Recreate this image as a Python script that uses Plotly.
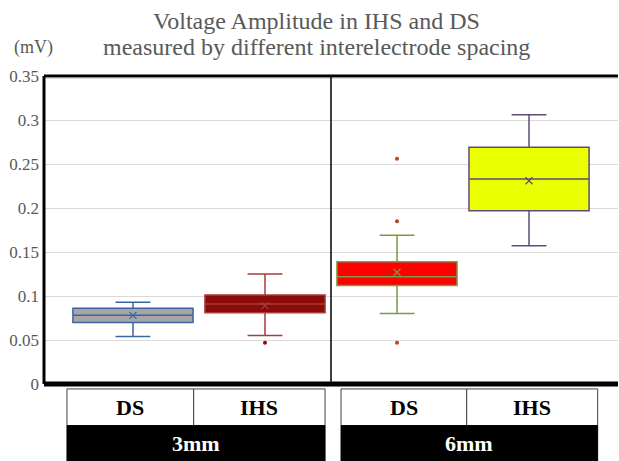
import plotly.graph_objects as go

# ---- data ----
categories = ["DS 3mm", "IHS 3mm", "DS 6mm", "IHS 6mm"]
q1 = [0.070, 0.081, 0.112, 0.197]
median = [0.078, 0.091, 0.122, 0.233]
q3 = [0.086, 0.101, 0.139, 0.269]
lower_fence = [0.054, 0.055, 0.080, 0.157]
upper_fence = [0.093, 0.125, 0.169, 0.306]
means = [0.078, 0.089, 0.127, 0.231]
outliers = [[], [0.047], [0.047, 0.185, 0.256], []]

group_labels = ["3mm", "6mm"]
sub_labels = ["DS", "IHS"]
y_ticks = [0, 0.05, 0.1, 0.15, 0.2, 0.25, 0.3, 0.35]
y_tick_text = ["0", "0.05", "0.1", "0.15", "0.2", "0.25", "0.3", "0.35"]
title_lines = ["Voltage Amplitude in IHS and DS", "measured by different interelectrode spacing"]
unit_label = "(mV)"

# ---- styles / layout constants ----
fills = ["#a6a6a6", "#8b0a0a", "#ff0000", "#eaff00"]
lines = ["#3c64a0", "#a83c3c", "#7a9a48", "#604a7b"]
outlier_colors = ["#3c64a0", "#8b0a0a", "#c0401e", "#604a7b"]
FONT = "Times New Roman, Liberation Serif, serif"
GRAY = "#595959"
table_edges = [[-0.50, 0.46, 1.455], [1.576, 2.528, 3.52]]  # x (axis units) of cell edges

fig = go.Figure()
for i, cat in enumerate(categories):
    fig.add_trace(go.Box(
        x=[i], q1=[q1[i]], median=[median[i]], q3=[q3[i]],
        lowerfence=[lower_fence[i]], upperfence=[upper_fence[i]],
        name=cat, width=0.91, whiskerwidth=0.29,
        fillcolor=fills[i], line=dict(color=lines[i], width=1.5),
        boxpoints=False, showlegend=False, hoverinfo="y",
    ))
    fig.add_trace(go.Scatter(
        x=[i], y=[means[i]], mode="markers", showlegend=False,
        marker=dict(symbol="x-thin", size=7, line=dict(color=lines[i], width=1.2)),
    ))
    if outliers[i]:
        fig.add_trace(go.Scatter(
            x=[i] * len(outliers[i]), y=outliers[i], mode="markers", showlegend=False,
            marker=dict(symbol="circle", size=4, color=outlier_colors[i]),
        ))

shapes = []
# plot borders
shapes.append(dict(type="line", xref="paper", yref="paper", x0=0, x1=1, y0=1, y1=1,
                   line=dict(color="black", width=3)))
shapes.append(dict(type="line", xref="paper", yref="paper", x0=0, x1=1, y0=0.994, y1=0.994,
                   line=dict(color="#9a9a9a", width=1)))
shapes.append(dict(type="line", xref="paper", yref="paper", x0=0, x1=0, y0=0, y1=1,
                   line=dict(color="black", width=3)))
shapes.append(dict(type="line", xref="paper", yref="paper", x0=0, x1=1, y0=0, y1=0,
                   line=dict(color="black", width=5)))
shapes.append(dict(type="line", xref="x", yref="paper", x0=1.5, x1=1.5, y0=0, y1=1,
                   line=dict(color="black", width=1.5)))

annotations = []
row1_top, row_mid, row_bot = -0.016, -0.135, -0.28
for g, glabel in enumerate(group_labels):
    left, mid, right = table_edges[g]
    for j, (a, b) in enumerate([(left, mid), (mid, right)]):
        shapes.append(dict(type="rect", xref="x", yref="paper", x0=a, x1=b,
                           y0=row_mid, y1=row1_top, fillcolor="white",
                           line=dict(color="#404040", width=1)))
        annotations.append(dict(xref="x", yref="paper", x=(a + b) / 2,
                                y=(row_mid + row1_top) / 2, xanchor="center", yanchor="middle",
                                text=f"<b>{sub_labels[j]}</b>", showarrow=False,
                                font=dict(family=FONT, size=22, color="black")))
    shapes.append(dict(type="rect", xref="x", yref="paper", x0=left, x1=right,
                       y0=row_bot, y1=row_mid, fillcolor="black",
                       line=dict(color="black", width=1)))
    annotations.append(dict(xref="x", yref="paper", x=(left + right) / 2,
                            y=-0.193, xanchor="center", yanchor="middle",
                            text=f"<b>{glabel}</b>", showarrow=False,
                            font=dict(family=FONT, size=22, color="white")))

annotations.append(dict(xref="paper", yref="paper", x=0.4756, y=1.18, xanchor="center",
                        yanchor="middle", text=title_lines[0], showarrow=False,
                        font=dict(family=FONT, size=24, color=GRAY)))
annotations.append(dict(xref="paper", yref="paper", x=0.4756, y=1.0955, xanchor="center",
                        yanchor="middle", text=title_lines[1], showarrow=False,
                        font=dict(family=FONT, size=24, color=GRAY)))
annotations.append(dict(xref="paper", yref="paper", x=-0.0563, y=1.092, xanchor="left",
                        yanchor="middle", text=unit_label, showarrow=False,
                        font=dict(family=FONT, size=18, color=GRAY)))

fig.update_layout(
    width=619, height=461,
    margin=dict(l=44, r=1, t=76, b=77),
    paper_bgcolor="white", plot_bgcolor="white",
    xaxis=dict(range=[-0.674, 3.674], showticklabels=False, showgrid=False,
               zeroline=False, ticks=""),
    yaxis=dict(range=[0, 0.35], tickvals=y_ticks, ticktext=y_tick_text,
               showgrid=True, gridcolor="#d9d9d9", gridwidth=1, zeroline=False,
               ticks="", ticklabelstandoff=4,
               tickfont=dict(family=FONT, size=17, color=GRAY)),
    shapes=shapes, annotations=annotations,
    showlegend=False,
)

fig.write_html("out.html", config={"displayModeBar": False},
               post_script="document.body.style.margin='0';")
